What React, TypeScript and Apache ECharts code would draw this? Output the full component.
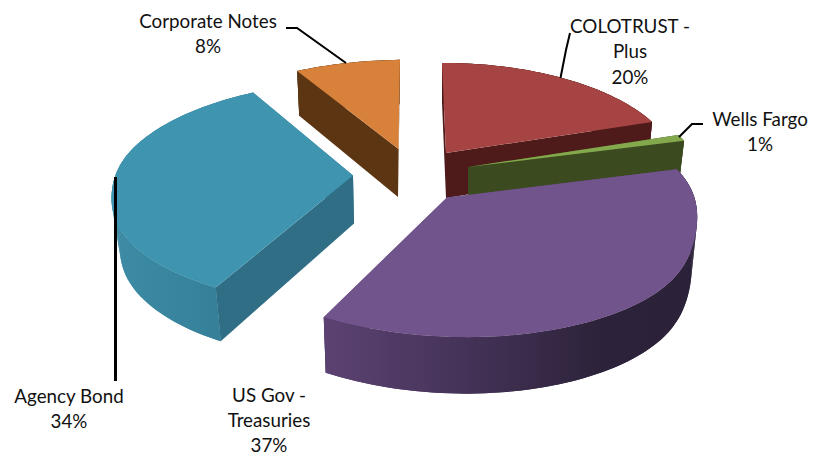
import React, { useEffect, useRef } from "react";
import * as echarts from "echarts";

const CATEGORIES = ["COLOTRUST - Plus", "Wells Fargo", "US Gov - Treasuries", "Agency Bond", "Corporate Notes"];
const VALUES = [20, 1, 37, 34, 8];
const LABEL_LINES = [["COLOTRUST -", "Plus"], ["Wells Fargo"], ["US Gov -", "Treasuries"], ["Agency Bond"], ["Corporate Notes"]];
const DRAW_ORDER = [4, 0, 1, 3, 2];

// projection of each exploded slice: apex, plane axes, perspective, wall, rim correction
const GEOMETRY = [
  { apex: [446, 153], a: [228.5, -0.5], b: [-4.6, -104], p: 0.155, base: [446, 198], bs: [0.98, 1.04], trim: 0, at: 0, w: 1 },
  { apex: [468, 167], a: [232.7, -1.5], b: [-4, -104], p: 0.155, base: [468, 213], bs: [0.975, 1.04], trim: 0, at: 0, w: 1 },
  { apex: [447, 197.5], a: [252, 0], b: [-17, -118], p: 0.155, base: [446.5, 247], bs: [0.98, 1.05], trim: 9, at: 108, w: 22 },
  { apex: [353, 175.5], a: [241, -2.8], b: [3, -109], p: 0.155, base: [354, 223.5], bs: [0.97, 1.05], trim: -3, at: 262, w: 18 },
  { apex: [398.5, 149], a: [242, -3.3], b: [1.7, -103], p: 0.155, base: [398, 197], bs: [0.975, 1.04], trim: 0, at: 0, w: 1 },
];
const TOP_COLORS = ["#a54442", "#84a84c", "#72548c", "#3f95b0", "#d8813b"];
const WALL_COLORS = ["#4e1b1a", "#3c4a1f", "#5a4270", "#2f6e85", "#5c3613"];
const ARC_STOPS = [
  [[0, "#4e1b1a"], [1, "#4e1b1a"]],
  [[0, "#3c4a1f"], [1, "#3c4a1f"]],
  [[0, "#5c4272"], [0.35, "#46345a"], [0.75, "#2c2239"], [1, "#2b2138"]],
  [[0, "#3d8ba5"], [1, "#337c95"]],
  [[0, "#5c3613"], [1, "#5c3613"]],
];
const LABEL_POS = [[630, 25], [760, 118], [269, 394], [69, 395], [208, 20]];
const LINE_STEP = [25.7, 25.7, 25, 25.7, 25.7];
const LEADERS = [
  { pts: [[570, 33], [566, 50], [560.5, 78]], w: 2 },
  { pts: [[703, 124], [692, 124], [679, 137]], w: 2 },
  { pts: [[115.5, 177], [115.5, 381]], w: 3 },
  { pts: [[286, 28], [297, 28], [346, 63]], w: 2 },
];

const total = VALUES.reduce((s, v) => s + v, 0);

function sliceAngles(i: number) {
  const before = VALUES.slice(0, i).reduce((s, v) => s + v, 0);
  return [(before / total) * Math.PI * 2, ((before + VALUES[i]) / total) * Math.PI * 2];
}

function offset(g: any, t: number) {
  const s = Math.sin(t), c = Math.cos(t), d = 1 + g.p * c;
  const deg = (t * 180) / Math.PI;
  const rim = g.trim * Math.exp(-(((deg - g.at) / g.w) ** 2));
  return [(g.a[0] * s + g.b[0] * c) / d - rim, (g.a[1] * s + g.b[1] * c) / d];
}

function renderSlice(params: any, api: any) {
  const i = DRAW_ORDER[params.dataIndex];
  api.value(0);
  const g = GEOMETRY[i];
  const [t0, t1] = sliceAngles(i);
  const n = Math.max(4, Math.ceil((t1 - t0) / 0.03));
  const top: number[][] = [];
  const bottom: number[][] = [];
  for (let k = 0; k <= n; k++) {
    const o = offset(g, t0 + ((t1 - t0) * k) / n);
    top.push([g.apex[0] + o[0], g.apex[1] + o[1]]);
    bottom.push([g.base[0] + o[0] * g.bs[0], g.base[1] + o[1] * g.bs[1]]);
  }
  const xs = top.map((q) => q[0]).concat(bottom.map((q) => q[0]));
  const grad = new echarts.graphic.LinearGradient(
    Math.min(...xs), 0, Math.max(...xs), 0,
    ARC_STOPS[i].map((s: any) => ({ offset: s[0], color: s[1] })), true as any
  );
  const wall = (a: number[], b: number[], c: number[], d: number[]) => ({
    type: "polygon", shape: { points: [a, b, c, d] }, style: { fill: WALL_COLORS[i] },
  });
  const strips: any[] = [];
  for (let k = 0; k < n; k++) {
    strips.push({
      type: "polygon",
      shape: { points: [top[k], top[k + 1], bottom[k + 1], bottom[k]] },
      style: { fill: grad },
    });
  }
  return {
    type: "group",
    children: [
      wall(g.apex, top[n], bottom[n], g.base),
      { type: "polygon", shape: { points: top.concat(bottom.slice().reverse()) }, style: { fill: grad } },
      ...strips,
      wall(g.apex, top[0], bottom[0], g.base),
      { type: "polygon", shape: { points: [g.apex, ...top] }, style: { fill: TOP_COLORS[i] } },
    ],
  };
}

export default function App() {
  const ref = useRef<HTMLDivElement>(null);
  useEffect(() => {
    document.body.style.margin = "0";
    const chart = echarts.init(ref.current!, undefined, { renderer: "svg" });
    const labels = CATEGORIES.flatMap((_, i) =>
      [...LABEL_LINES[i], `${VALUES[i]}%`].map((line, k) => ({
        type: "text",
        z: 10,
        x: LABEL_POS[i][0],
        y: LABEL_POS[i][1] + k * LINE_STEP[i],
        style: {
          text: line,
          font: '18.8px Lato, "Open Sans", sans-serif',
          fill: "#111",
          align: "center",
          verticalAlign: "middle",
          lineHeight: 18,
        },
        silent: true,
      }))
    );
    const lines = LEADERS.map((l) => ({
      type: "polyline",
      z: 10,
      shape: { points: l.pts },
      style: { stroke: "#000", lineWidth: l.w, fill: "none" },
      silent: true,
    }));
    chart.setOption({
      animation: false,
      backgroundColor: "#fff",
      series: [
        {
          type: "custom",
          coordinateSystem: "none",
          silent: true,
          renderItem: renderSlice,
          data: DRAW_ORDER.map((i) => ({ name: CATEGORIES[i], value: VALUES[i] })),
        },
      ],
      graphic: { elements: [...lines, ...labels] },
    });
    return () => chart.dispose();
  }, []);
  return <div ref={ref} style={{ position: "fixed", left: 0, top: 0, width: 827, height: 456 }} />;
}
